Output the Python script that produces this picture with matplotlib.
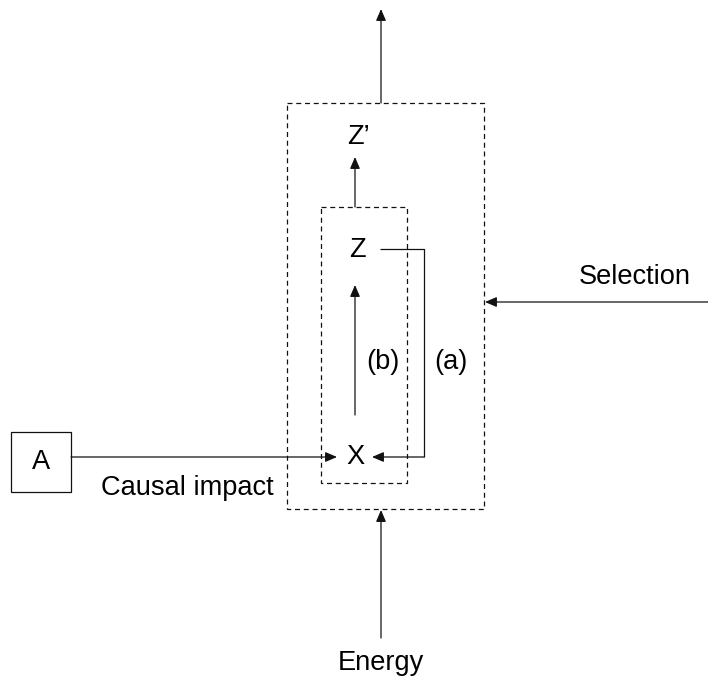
"""Causal diagram: A -> X -> Z -> Z' inside nested selection boxes."""
import matplotlib
matplotlib.use("Agg")
import matplotlib.pyplot as plt
import matplotlib.patches as mpatches

plt.rcParams["font.family"] = ["Liberation Sans", "DejaVu Sans"]

W, H = 708, 677

# node labels and their centres (pixel coords, y down)
labels = ["Z\u2019", "Z", "X", "A", "(b)", "(a)", "Causal impact", "Selection", "Energy"]
label_x = [358, 357, 355, 41, 383, 451, 187, 635, 381]
label_y = [137, 250, 457, 462, 362, 362, 488, 277, 663]

# dashed boxes: (x0, y0, x1, y1)
dashed_boxes = [(287, 103, 484, 509), (321, 207, 407, 483)]
solid_boxes = [(11, 432, 71, 492)]

# arrows as polylines, head at the last point
arrows = [
    [(381, 103), (381, 9)],                     # out of outer box
    [(355, 207), (355, 157)],                   # inner box -> Z'
    [(355, 415), (355, 285)],                   # (b) X -> Z
    [(380, 249), (424, 249), (424, 457), (372, 457)],  # (a) Z -> X
    [(71, 457), (337, 457)],                    # A -> X
    [(708, 302), (485, 302)],                   # selection
    [(381, 638), (381, 510)],                   # energy
]

fig = plt.figure(figsize=(W / 100, H / 100), dpi=100)
ax = fig.add_axes([0, 0, 1, 1])
ax.set_xlim(0, W)
ax.set_ylim(H, 0)
ax.axis("off")

for x0, y0, x1, y1 in dashed_boxes:
    ax.add_patch(mpatches.Rectangle((x0, y0), x1 - x0, y1 - y0, fill=False,
                                    edgecolor="#111111", linewidth=0.9,
                                    linestyle=(0, (4, 3))))
for x0, y0, x1, y1 in solid_boxes:
    ax.add_patch(mpatches.Rectangle((x0, y0), x1 - x0, y1 - y0, fill=False,
                                    edgecolor="#111111", linewidth=0.9))

for pts in arrows:
    if len(pts) > 2:
        xs, ys = zip(*pts[:-1])
        ax.plot(xs, ys, color="#111111", linewidth=0.9, solid_capstyle="butt")
    ax.add_patch(mpatches.FancyArrowPatch(
        pts[-2], pts[-1], arrowstyle="-|>,head_length=0.7,head_width=0.3",
        mutation_scale=10, color="#111111", linewidth=0.9,
        shrinkA=0, shrinkB=0))

for txt, x, y in zip(labels, label_x, label_y):
    ax.text(x, y, txt, ha="center", va="center", fontsize=19.6, color="black")

fig.savefig("out.png", dpi=100)
plt.close(fig)
